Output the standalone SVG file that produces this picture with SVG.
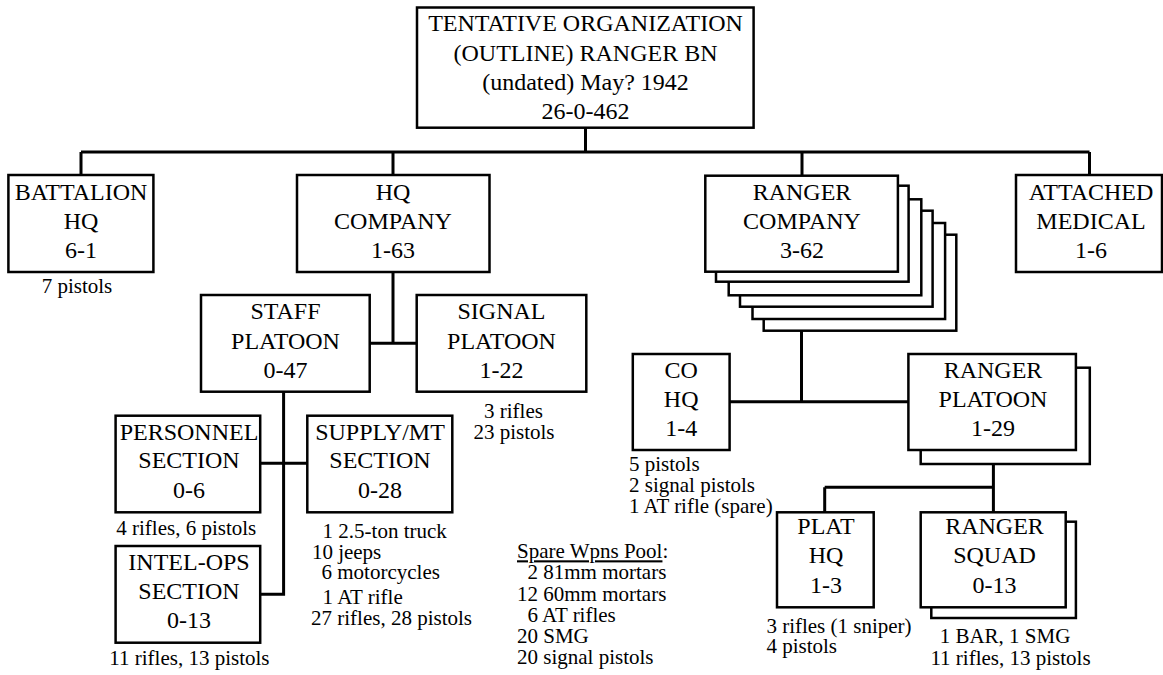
<svg xmlns="http://www.w3.org/2000/svg" width="1163" height="675" viewBox="0 0 1163 675" font-family="'Liberation Serif', Tinos, 'Nimbus Roman', 'DejaVu Serif', 'Noto Serif', serif">
<style>
.box{fill:#fff;stroke:#000;stroke-width:2.5}
.ln{fill:none;stroke:#000;stroke-width:3}
text{fill:#000}
.t{font-size:24px;text-anchor:middle}
.s{font-size:21px}
.sc{font-size:21px;text-anchor:middle}
</style>
<rect width="1163" height="675" fill="#fff"/>
<g id="connectors">
<path class="ln" d="M585.5,128V152M81,152H1089.5M81,152V175M393,152V175M802,152V175M1089.5,152V175"/>
<path class="ln" d="M393,272V343.3M369.7,343.3H416.7"/>
<path class="ln" d="M283.6,392V594.3H260.2M260.2,463.3H307.3"/>
<path class="ln" d="M801.5,330.7V401.7M729.6,401.7H908.4"/>
<path class="ln" d="M993.4,464V512.3M824.7,487.3H993.4M824.7,487.3V512.3"/>
</g>
<g id="top">
<rect class="box" x="417" y="7.5" width="336.6" height="120.2"/>
<text class="t" x="585.5" y="31">TENTATIVE ORGANIZATION</text>
<text class="t" x="585.5" y="60.5">(OUTLINE) RANGER BN</text>
<text class="t" x="585.5" y="90">(undated) May? 1942</text>
<text class="t" x="585.5" y="119">26-0-462</text>
</g>
<g id="battalion-hq">
<rect class="box" x="8.4" y="175" width="145" height="97"/>
<text class="t" x="81" y="200">BATTALION</text>
<text class="t" x="81" y="229.3">HQ</text>
<text class="t" x="81" y="258.3">6-1</text>
<text class="sc" x="77" y="293">7 pistols</text>
</g>
<g id="hq-company">
<rect class="box" x="297" y="175" width="192.5" height="97"/>
<text class="t" x="393" y="200">HQ</text>
<text class="t" x="393" y="229.3">COMPANY</text>
<text class="t" x="393" y="258.3">1-63</text>
</g>
<g id="ranger-company">
<rect class="box" x="763.7" y="234.7" width="192.6" height="96"/>
<rect class="box" x="752.5" y="223" width="192.6" height="96"/>
<rect class="box" x="740" y="210.7" width="192.6" height="96"/>
<rect class="box" x="728.7" y="199.3" width="192.6" height="96"/>
<rect class="box" x="716" y="185.7" width="192.6" height="96"/>
<rect class="box" x="705.3" y="175.7" width="192.6" height="96"/>
<text class="t" x="802" y="200">RANGER</text>
<text class="t" x="802" y="229.3">COMPANY</text>
<text class="t" x="802" y="258.3">3-62</text>
</g>
<g id="attached-medical">
<rect class="box" x="1016" y="175" width="146" height="97"/>
<text class="t" x="1091" y="200">ATTACHED</text>
<text class="t" x="1091" y="229.3">MEDICAL</text>
<text class="t" x="1091" y="258.3">1-6</text>
</g>
<g id="staff-platoon">
<rect class="box" x="201" y="295" width="168.7" height="96.7"/>
<text class="t" x="285.5" y="319">STAFF</text>
<text class="t" x="285.5" y="348.5">PLATOON</text>
<text class="t" x="285.5" y="378">0-47</text>
</g>
<g id="signal-platoon">
<rect class="box" x="416.7" y="295" width="169.6" height="96.7"/>
<text class="t" x="501.5" y="319">SIGNAL</text>
<text class="t" x="501.5" y="348.5">PLATOON</text>
<text class="t" x="501.5" y="378">1-22</text>
<text class="s" x="484" y="417.7">3 rifles</text>
<text class="s" x="473.4" y="439.3">23 pistols</text>
</g>
<g id="personnel-section">
<rect class="box" x="115.6" y="415.7" width="144.6" height="96.6"/>
<text class="t" x="189" y="440">PERSONNEL</text>
<text class="t" x="189" y="467.7">SECTION</text>
<text class="t" x="189" y="497.7">0-6</text>
<text class="sc" x="186.3" y="535">4 rifles, 6 pistols</text>
</g>
<g id="supply-section">
<rect class="box" x="307.3" y="415.7" width="145" height="96.6"/>
<text class="t" x="380" y="440">SUPPLY/MT</text>
<text class="t" x="380" y="467.7">SECTION</text>
<text class="t" x="380" y="497.7">0-28</text>
<text class="s" x="322.6" y="537.7">1 2.5-ton truck</text>
<text class="s" x="311.9" y="558.7">10 jeeps</text>
<text class="s" x="321.5" y="579.3">6 motorcycles</text>
<text class="s" x="322.6" y="604">1 AT rifle</text>
<text class="s" x="311" y="625.3">27 rifles, 28 pistols</text>
</g>
<g id="intel-ops-section">
<rect class="box" x="115.6" y="546" width="144.6" height="96.7"/>
<text class="t" x="189" y="570">INTEL-OPS</text>
<text class="t" x="189" y="598.7">SECTION</text>
<text class="t" x="189" y="627.7">0-13</text>
<text class="sc" x="189.4" y="665">11 rifles, 13 pistols</text>
</g>
<g id="spare-pool">
<text class="s" x="517" y="558.3"><tspan text-decoration="underline">Spare Wpns Pool</tspan>:</text>
<text class="s" x="527.5" y="579.3">2 81mm mortars</text>
<text class="s" x="517" y="600.7">12 60mm mortars</text>
<text class="s" x="527.5" y="622">6 AT rifles</text>
<text class="s" x="517" y="642.7">20 SMG</text>
<text class="s" x="517" y="664.3">20 signal pistols</text>
</g>
<g id="co-hq">
<rect class="box" x="632.8" y="354" width="96.8" height="96"/>
<text class="t" x="681.2" y="377.7">CO</text>
<text class="t" x="681.2" y="407">HQ</text>
<text class="t" x="681.2" y="436">1-4</text>
<text class="s" x="629" y="470.7">5 pistols</text>
<text class="s" x="629" y="492.3">2 signal pistols</text>
<text class="s" x="629" y="513.3">1 AT rifle (spare)</text>
</g>
<g id="ranger-platoon">
<rect class="box" x="920.7" y="367.7" width="169.1" height="96.3"/>
<rect class="box" x="908.4" y="354" width="167.5" height="96"/>
<text class="t" x="993" y="377.7">RANGER</text>
<text class="t" x="993" y="407">PLATOON</text>
<text class="t" x="993" y="435.5">1-29</text>
</g>
<g id="plat-hq">
<rect class="box" x="777" y="512.3" width="96.7" height="95"/>
<text class="t" x="826" y="534.3">PLAT</text>
<text class="t" x="826" y="563.3">HQ</text>
<text class="t" x="826" y="593.3">1-3</text>
<text class="s" x="766.4" y="632.7">3 rifles (1 sniper)</text>
<text class="s" x="766.4" y="653.3">4 pistols</text>
</g>
<g id="ranger-squad">
<rect class="box" x="931.3" y="521.7" width="144.6" height="96.3"/>
<rect class="box" x="920.7" y="512.3" width="145" height="95"/>
<text class="t" x="994.5" y="534.3">RANGER</text>
<text class="t" x="994.5" y="563.3">SQUAD</text>
<text class="t" x="994.5" y="593.3">0-13</text>
<text class="s" x="939.7" y="643.3">1 BAR, 1 SMG</text>
<text class="s" x="930.4" y="665">11 rifles, 13 pistols</text>
</g>
</svg>
